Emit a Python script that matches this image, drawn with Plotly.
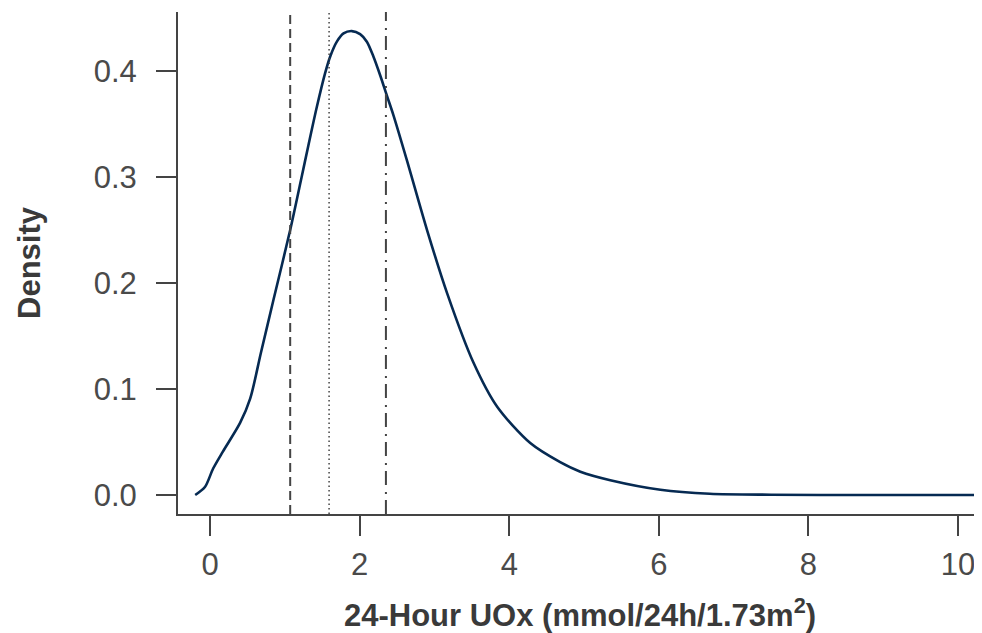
import plotly.graph_objects as go

# Density curve
uox = [-0.20, -0.07, 0.04, 0.17, 0.40, 0.535, 0.678, 0.846, 1.07, 1.226, 1.314, 1.426,
       1.537, 1.604, 1.694, 1.783, 1.894, 2.005, 2.095, 2.184, 2.273, 2.362, 2.45,
       2.63, 2.90, 3.17, 3.52, 3.84, 4.28, 4.68, 4.95, 5.35, 6.02, 6.68, 7.5, 8.7, 10.4]
density = [0.0, 0.0075, 0.025, 0.041, 0.068, 0.091, 0.134, 0.184, 0.250, 0.301, 0.330, 0.366,
           0.398, 0.4135, 0.4277, 0.4355, 0.4377, 0.4349, 0.4277, 0.4135, 0.396, 0.377, 0.3585,
           0.316, 0.250, 0.190, 0.125, 0.083, 0.049, 0.031, 0.022, 0.014, 0.005, 0.0012, 0.0003, 0.0, 0.0]

# Reference lines
ref_x = [1.07, 1.59, 2.35]
ref_dash = ["9px,5px", "1.5px,3px", "14px,6px,2px,7px"]
ref_width = [2, 1.5, 2]

x_ticks = [0, 2, 4, 6, 8, 10]
y_ticks = [0.0, 0.1, 0.2, 0.3, 0.4]
y_ticktext = ["0.0", "0.1", "0.2", "0.3", "0.4"]

fig = go.Figure()
fig.add_trace(go.Scatter(x=uox, y=density, mode="lines",
                         line=dict(color="#062a52", width=2.6, shape="spline", smoothing=0.8),
                         hoverinfo="skip", showlegend=False))

for xv, d, w in zip(ref_x, ref_dash, ref_width):
    fig.add_vline(x=xv, line=dict(color="#444444", width=w, dash=d))

axis_font = dict(family="Liberation Sans, Arial, sans-serif", size=31, color="#4a4a4a")
title_font = dict(family="Liberation Sans, Arial, sans-serif", size=31, color="#3a3a3a")

# page body has an 8px margin, so the figure is 8px smaller and margins shifted
fig.update_layout(
    width=974, height=625,
    margin=dict(l=170, r=0, t=4, b=119),
    plot_bgcolor="white", paper_bgcolor="white",
    xaxis=dict(range=[-0.43, 10.32], tickvals=x_ticks, showgrid=False, zeroline=False,
               showline=True, linecolor="#444444", linewidth=2,
               ticks="outside", ticklen=20, tickwidth=2, tickcolor="#444444",
               ticklabelstandoff=2, tickfont=axis_font,
               title=dict(text="<b>24-Hour UOx (mmol/24h/1.73m<sup>2</sup>)</b>",
                          font=title_font, standoff=24)),
    yaxis=dict(range=[-0.0179, 0.4557], tickvals=y_ticks, ticktext=y_ticktext,
               showgrid=False, zeroline=False,
               showline=True, linecolor="#444444", linewidth=2,
               ticks="outside", ticklen=20, tickwidth=2, tickcolor="#444444",
               ticklabelstandoff=13, tickfont=axis_font,
               title=dict(text="<b>Density</b>", font=title_font, standoff=44)),
)

fig.write_html("out.html")
